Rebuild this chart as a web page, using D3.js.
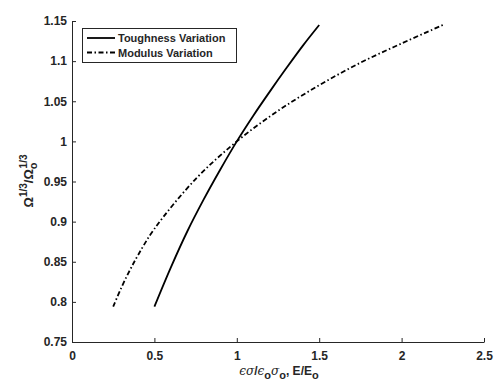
<!DOCTYPE html>
<html>
<head>
<meta charset="utf-8">
<script src="https://cdn.jsdelivr.net/npm/d3@7"></script>
<style>
  body { margin: 0; background: #fff; }
  svg { display: block; font-family: "Liberation Sans", Arial, sans-serif; }
</style>
</head>
<body>
<svg id="chart" width="494" height="385"></svg>
<script>
// values
const toughX = [0.5, 0.6, 0.7, 0.8, 0.9, 1.0, 1.1, 1.2, 1.3, 1.4, 1.5];
const toughY = [0.794, 0.843, 0.888, 0.928, 0.965, 1.0, 1.032, 1.062, 1.091, 1.119, 1.145];
const modX = [0.25, 0.3, 0.35, 0.4, 0.5, 0.75, 1.0, 1.25, 1.5, 1.75, 2.0, 2.25];
const modY = [0.794, 0.818, 0.839, 0.858, 0.891, 0.953, 1.0, 1.038, 1.070, 1.098, 1.122, 1.145];
const xTicks = [0, 0.5, 1, 1.5, 2, 2.5];
const yTicks = [0.75, 0.8, 0.85, 0.9, 0.95, 1, 1.05, 1.1, 1.15];
const seriesNames = ["Toughness Variation", "Modulus Variation"];

const svg = d3.select("#chart");
const ink = "#262626";

const x = d3.scaleLinear().domain([0, 2.5]).range([72, 484]);
const y = d3.scaleLinear().domain([0.75, 1.15]).range([342, 21]);

// axes, ticks pointing inward
const xAxis = svg.append("g")
  .attr("transform", `translate(0,${y(0.75)})`)
  .call(d3.axisBottom(x).tickValues(xTicks).tickSizeInner(-4).tickSizeOuter(0).tickPadding(9).tickFormat(d3.format("")));
const yAxis = svg.append("g")
  .attr("transform", `translate(${x(0)},0)`)
  .call(d3.axisLeft(y).tickValues(yTicks).tickSizeInner(-4).tickSizeOuter(0).tickPadding(5).tickFormat(d3.format("")));

[xAxis, yAxis].forEach(a => {
  a.select(".domain").attr("stroke", ink).attr("stroke-width", 1);
  a.selectAll(".tick line").attr("stroke", ink);
  a.selectAll("text")
    .attr("fill", ink)
    .style("font-size", "12px")
    .style("font-weight", "bold")
    .style("font-family", "Liberation Sans, Arial, sans-serif");
});

const line = d3.line()
  .x(d => x(d[0]))
  .y(d => y(d[1]))
  .curve(d3.curveCatmullRom);

const tough = toughX.map((v, i) => [v, toughY[i]]);
const mod = modX.map((v, i) => [v, modY[i]]);

svg.append("path")
  .attr("d", line(tough))
  .attr("fill", "none")
  .attr("stroke", "#000")
  .attr("stroke-width", 1.8);

svg.append("path")
  .attr("d", line(mod))
  .attr("fill", "none")
  .attr("stroke", "#000")
  .attr("stroke-width", 1.8)
  .attr("stroke-dasharray", "5,2.5,1.5,2.5");

// legend
const leg = svg.append("g");
leg.append("rect")
  .attr("x", 82.5).attr("y", 28.5)
  .attr("width", 154).attr("height", 34)
  .attr("fill", "#fff").attr("stroke", ink).attr("stroke-width", 1);
seriesNames.forEach((name, i) => {
  const ly = 38 + i * 14.5;
  leg.append("line")
    .attr("x1", 87).attr("x2", 115)
    .attr("y1", ly).attr("y2", ly)
    .attr("stroke", "#000").attr("stroke-width", 1.8)
    .attr("stroke-dasharray", i === 1 ? "5,2.5,1.5,2.5" : null);
  leg.append("text")
    .attr("x", 118).attr("y", ly + 4)
    .attr("fill", ink)
    .style("font-size", "11px")
    .style("font-weight", "bold")
    .text(name);
});

// x label
const serif = "DejaVu Serif, serif";
const xl = svg.append("text")
  .attr("x", 279).attr("y", 375)
  .attr("text-anchor", "middle")
  .attr("fill", ink)
  .style("font-size", "12px")
  .style("font-weight", "bold");
xl.append("tspan").style("font-style", "italic").style("font-weight", "normal").style("font-family", serif).text("ϵσ");
xl.append("tspan").text("/");
xl.append("tspan").style("font-style", "italic").style("font-weight", "normal").style("font-family", serif).text("ϵ");
xl.append("tspan").attr("dy", 4).style("font-size", "11px").text("o");
xl.append("tspan").attr("dy", -4).style("font-style", "italic").style("font-weight", "normal").style("font-family", serif).text("σ");
xl.append("tspan").attr("dy", 4).style("font-size", "11px").text("o");
xl.append("tspan").attr("dy", -4).text(", E/E");
xl.append("tspan").attr("dy", 4).style("font-size", "11px").text("o");

// y label
const yl = svg.append("text")
  .attr("transform", `translate(33,181) rotate(-90)`)
  .attr("text-anchor", "middle")
  .attr("fill", ink)
  .style("font-size", "13px")
  .style("font-weight", "bold");
yl.append("tspan").text("Ω");
yl.append("tspan").attr("dy", -6).style("font-size", "10px").text("1/3");
yl.append("tspan").attr("dy", 6).text("/Ω");
yl.append("tspan").attr("dy", 4).style("font-size", "11px").text("o");
yl.append("tspan").attr("dy", -10).attr("dx", -6).style("font-size", "10px").text("1/3");
</script>
</body>
</html>
